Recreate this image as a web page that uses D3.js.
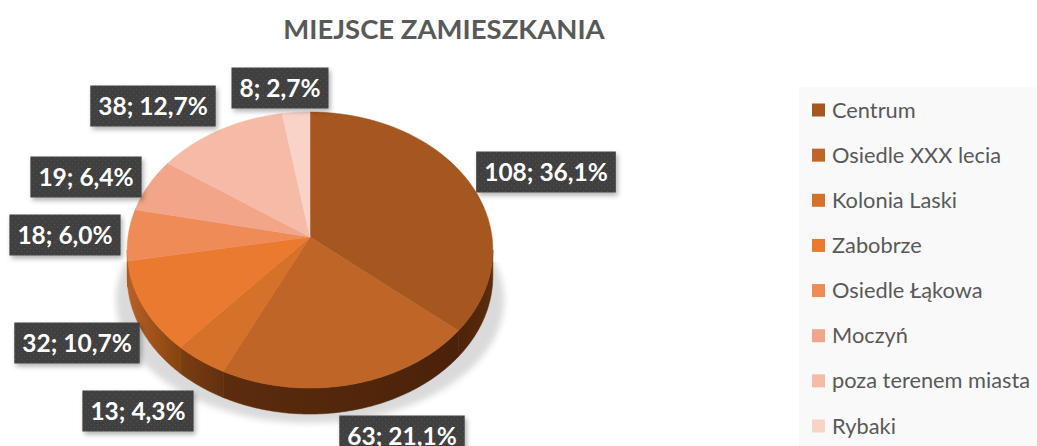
<!DOCTYPE html>
<html>
<head>
<meta charset="utf-8">
<style>
  html, body { margin: 0; padding: 0; background: #fff; overflow: hidden; }
  svg { display: block; }
  text { font-family: Lato, "Open Sans", sans-serif; }
  .title { font-size: 27.5px; font-weight: 700; fill: #595959; text-anchor: middle; }
  .legend text { font-size: 21.8px; fill: #595959; }
  .lab text { font-size: 24.5px; font-weight: 700; fill: #fff; text-anchor: middle; }
</style>
</head>
<body>
<svg width="1037" height="446"></svg>
<script src="https://d3js.org/d3.v7.min.js"></script>
<script>
var categories = ["Centrum", "Osiedle XXX lecia", "Kolonia Laski", "Zabobrze", "Osiedle Łąkowa", "Moczyń", "poza terenem miasta", "Rybaki"];
var counts = [108, 63, 13, 32, 18, 19, 38, 8];
var percents = ["36,1%", "21,1%", "4,3%", "10,7%", "6,0%", "6,4%", "12,7%", "2,7%"];
var colors = ["#a5571f", "#bf6528", "#d57129", "#e97a2f", "#ef8b57", "#f2a588", "#f5bba6", "#f9d3c8"];

// rim shades, left and right end of each slice's side wall
var rimLeft = ["#4c230a", "#5c2c0d", "#7c3e12", "#b86026", "#b86026", "#b86026", "#b86026", "#b86026"];
var rimRight = ["#5c2c0c", "#4a2209", "#623010", "#85430f", "#85430f", "#85430f", "#85430f", "#85430f"];

// label box centres, placed by hand like the original
var labelX = [546, 402, 138, 77, 65, 86, 153, 280];
var labelY = [172, 436, 411, 343, 235, 177, 106, 88];

var svg = d3.select("svg");
var defs = svg.append("defs");

var pattern = defs.append("pattern").attr("id", "dots")
    .attr("width", 6).attr("height", 6).attr("patternUnits", "userSpaceOnUse");
pattern.append("rect").attr("width", 6).attr("height", 6).attr("fill", "#404040");
pattern.append("rect").attr("x", 1).attr("y", 1).attr("width", 1).attr("height", 1).attr("fill", "#525252");
pattern.append("rect").attr("x", 4).attr("y", 4).attr("width", 1).attr("height", 1).attr("fill", "#525252");

var boxShadow = defs.append("filter").attr("id", "boxShadow")
    .attr("x", "-20%").attr("y", "-30%").attr("width", "140%").attr("height", "170%");
boxShadow.append("feDropShadow").attr("dx", 2).attr("dy", 3).attr("stdDeviation", 2.5)
    .attr("flood-color", "#000").attr("flood-opacity", 0.3);

defs.append("filter").attr("id", "blur").append("feGaussianBlur").attr("stdDeviation", 3);

defs.append("clipPath").attr("id", "belowRim").append("rect")
    .attr("x", 0).attr("y", 262).attr("width", 1037).attr("height", 184);

// pie lying in perspective: apex sits above the middle of the ellipse
var cx = 310, cy = 237, rx = 182, ry = 136.8, persp = 0.0942, depth = 26;

function project(a) {
  var u = Math.sin(a), v = -Math.cos(a), k = 1 - persp * v;
  return [cx + rx * u / k, cy + ry * v / k];
}

function arcPoints(a0, a1) {
  var n = Math.max(2, Math.ceil((a1 - a0) / 0.01));
  return d3.range(n + 1).map(function(i) { return project(a0 + (a1 - a0) * i / n); });
}

var line = d3.line();
var arcs = d3.pie().sort(null).value(function(d) { return d; })(counts);

// soft ground shadow
svg.append("g").attr("clip-path", "url(#belowRim)")
  .append("ellipse")
    .attr("cx", cx).attr("cy", 300).attr("rx", 194).attr("ry", 123)
    .attr("fill", "#dadada").attr("filter", "url(#blur)");

// side wall, only the front part of the rim shows
var rimStart = Math.acos(-persp), rimEnd = 2 * Math.PI - rimStart;
var rim = svg.append("g");
arcs.forEach(function(d, i) {
  var a0 = Math.max(d.startAngle, rimStart), a1 = Math.min(d.endAngle, rimEnd);
  if (a1 <= a0) return;
  var top = arcPoints(a0, a1);
  var bottom = top.map(function(p) { return [p[0], p[1] + depth]; }).reverse();
  var xs = d3.extent(top, function(p) { return p[0]; });
  var grad = defs.append("linearGradient").attr("id", "rim" + i)
      .attr("gradientUnits", "userSpaceOnUse")
      .attr("x1", xs[0]).attr("x2", xs[1]).attr("y1", 0).attr("y2", 0);
  grad.append("stop").attr("offset", 0).attr("stop-color", rimLeft[i]);
  grad.append("stop").attr("offset", 1).attr("stop-color", rimRight[i]);
  rim.append("path")
      .attr("d", line(top.concat(bottom)) + "Z")
      .attr("fill", "url(#rim" + i + ")")
      .attr("stroke", "url(#rim" + i + ")")
      .attr("stroke-width", 0.6);
});

// top face
svg.append("g").selectAll("path")
  .data(arcs)
  .enter().append("path")
    .attr("d", function(d) { return line([[cx, cy]].concat(arcPoints(d.startAngle, d.endAngle))) + "Z"; })
    .attr("fill", function(d, i) { return colors[i]; })
    .attr("stroke", function(d, i) { return colors[i]; })
    .attr("stroke-width", 0.5);

// title
svg.append("text").attr("class", "title")
    .attr("x", 444).attr("y", 39)
    .text("MIEJSCE ZAMIESZKANIA");

// data labels
var lab = svg.append("g").selectAll("g")
  .data(counts)
  .enter().append("g").attr("class", "lab")
    .attr("transform", function(d, i) { return "translate(" + labelX[i] + "," + labelY[i] + ")"; });

lab.append("text")
    .attr("dy", "0.35em")
    .text(function(d, i) { return d + "; " + percents[i]; });

lab.insert("rect", "text")
    .each(function() {
      var w = this.parentNode.querySelector("text").getBBox().width + 16;
      d3.select(this).attr("x", -w / 2).attr("width", w);
    })
    .attr("y", -20.5).attr("height", 41)
    .attr("fill", "url(#dots)")
    .attr("filter", "url(#boxShadow)");

// legend
var legendY = d3.scalePoint().domain(categories).range([110, 426]);
var legendColor = d3.scaleOrdinal().domain(categories).range(colors);

svg.append("rect").attr("x", 799).attr("y", 87).attr("width", 238).attr("height", 359).attr("fill", "#f9f9f9");

var legend = svg.append("g").attr("class", "legend").selectAll("g")
  .data(categories)
  .enter().append("g")
    .attr("transform", function(d) { return "translate(812," + legendY(d) + ")"; });

legend.append("rect")
    .attr("y", -6.5).attr("width", 13).attr("height", 13)
    .attr("fill", function(d) { return legendColor(d); });

legend.append("text")
    .attr("x", 20).attr("dy", "0.35em")
    .text(function(d) { return d; });
</script>
</body>
</html>
